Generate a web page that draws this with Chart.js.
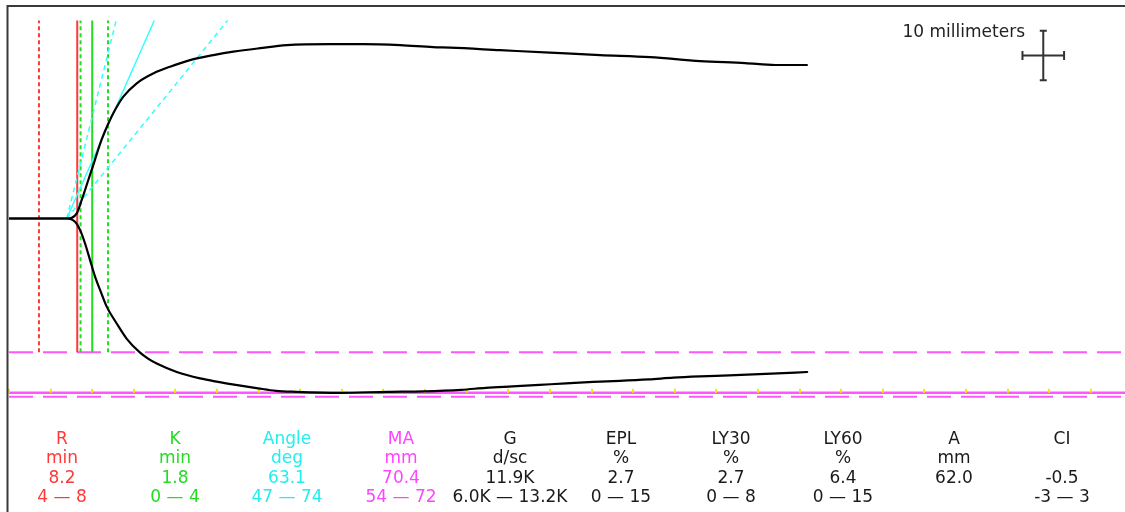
<!DOCTYPE html>
<html>
<head>
<meta charset="utf-8">
<script src="https://cdn.jsdelivr.net/npm/chart.js@4.4.1/dist/chart.umd.min.js"></script>
<style>
  html, body { margin: 0; padding: 0; background: #ffffff; overflow: hidden; }
  canvas { display: block; }
</style>
</head>
<body>
<canvas id="teg" width="1125" height="512"></canvas>
<script>
// Upper branch of the tracing: time (min) and amplitude above the baseline (mm)
const upperTime = [0, 6.94, 8.14, 8.74, 9.53, 10.13, 10.58, 11.14, 11.94, 12.74, 13.74, 15.35, 17.34, 19.35,
  21.75, 24.56, 26.96, 30.17, 33.38, 38.58, 42.55, 46.99, 50.96, 53.0, 59.0, 65.0, 71.03, 77.04, 83.05, 88.46, 92.07, 95.88];
const upperAmp = [0, 0, 1.05, 3.74, 7.78, 10.8, 13.2, 16.0, 19.2, 21.9, 24.6, 27.3, 29.3, 30.66,
  32.0, 33.0, 33.7, 34.4, 35.0, 35.2, 35.2, 35.0, 34.6, 34.5, 34.0, 33.5, 33.0, 32.6, 31.8, 31.4, 31.0, 31.0];

// Lower branch of the tracing: time (min) and amplitude below the baseline (mm)
const lowerTime = [0, 6.94, 7.93, 8.53, 9.13, 9.74, 10.34, 10.94, 11.74, 12.94, 14.15, 15.75, 16.71, 17.75, 20.16,
  22.96, 25.11, 27.25, 29.93, 32.08, 34.5, 39.78, 45.49, 49.76, 54.33, 57.3, 60.52, 63.74, 66.95, 70.18,
  73.39, 76.89, 79.83, 83.05, 86.54, 91.63, 95.91];
const lowerAmp = [0, 0, -0.65, -2.3, -5.0, -8.4, -11.75, -14.4, -17.8, -21.2, -24.3, -27.1, -28.3, -29.3, -31.0,
  -32.3, -33.0, -33.6, -34.3, -34.8, -35.0, -35.2, -35.0, -34.9, -34.6, -34.2, -33.9, -33.6, -33.3, -33.0,
  -32.8, -32.5, -32.15, -31.9, -31.7, -31.35, -31.0];

// Reported results
const R_MIN = 8.2;
const K_MIN = 1.8;
const ANGLE_DEG = 63.1;
const MA_MM = 70.4;
const angleLimits = [47, 74];
const maLimits = [54, 72];

// Reference markers (min) and the split point of the tracing
const rGuides = [3.6];
const kGuides = [8.6, 11.9];
const splitTime = 6.94;

// Time ticks along the MA line (min)
const timeTicks = [0, 5, 10, 15, 20, 25, 30, 35, 40, 45, 50, 55, 60, 65, 70, 75, 80, 85, 90, 95,
  100, 105, 110, 115, 120, 125, 130];

// Results table
const paramNames  = ['R', 'K', 'Angle', 'MA', 'G', 'EPL', 'LY30', 'LY60', 'A', 'CI'];
const paramUnits  = ['min', 'min', 'deg', 'mm', 'd/sc', '%', '%', '%', 'mm', ''];
const paramValues = ['8.2', '1.8', '63.1', '70.4', '11.9K', '2.7', '2.7', '6.4', '62.0', '-0.5'];
const paramRanges = ['4 \u2014 8', '0 \u2014 4', '47 \u2014 74', '54 \u2014 72', '6.0K \u2014 13.2K',
  '0 \u2014 15', '0 \u2014 8', '0 \u2014 15', '', '-3 \u2014 3'];

// Styling
const RED = '#ff3838';
const GREEN = '#22dd22';
const CYAN = '#33ffff';
const MAGENTA = '#ff55ff';
const YELLOW = '#eeee00';
const INK = '#1a1a1a';
const paramColors = [RED, GREEN, '#22eeee', '#ff44ff', INK, INK, INK, INK, INK, INK];
const columnX = [62, 175, 287, 401, 510, 621, 731, 843, 954, 1062];
const rowY = [440, 459, 479, 498];
const FONT = '17px "DejaVu Sans", Verdana, sans-serif';

// Display conventions
const GUIDE_TOP = 40;          // mm, upper end of guide lines
const SLOPE_PER_TAN = 1.93;    // mm/min for a tangent of 1
const T_MAX = 134.1;
const Y_MAX = 42.92;
const Y_MIN = -59.28;

const zip = (xs, ys) => xs.map((x, i) => ({ x, y: ys[i] }));
const guideBottom = -maLimits[0] / 2;
const vLine = t => [{ x: t, y: guideBottom }, { x: t, y: GUIDE_TOP }];
const hLine = mm => [{ x: 0, y: mm }, { x: T_MAX, y: mm }];
const angleLine = deg => {
  const slope = SLOPE_PER_TAN * Math.tan(deg * Math.PI / 180);
  return [{ x: splitTime, y: 0 }, { x: splitTime + GUIDE_TOP / slope, y: GUIDE_TOP }];
};

const ds = (data, color, width, dash, order) => ({
  data, borderColor: color, borderWidth: width, borderDash: dash || [],
  pointRadius: 0, tension: 0, fill: false, order
});
const trace = (data) => Object.assign(ds(data, '#000000', 2.2, null, 0), {
  cubicInterpolationMode: 'monotone', borderJoinStyle: 'round', borderCapStyle: 'round'
});

const datasets = [
  trace(zip(upperTime, upperAmp)),
  trace(zip(lowerTime, lowerAmp)),
  ds(angleLine(ANGLE_DEG), CYAN, 1.5, null, 2),
  ds(angleLine(angleLimits[0]), CYAN, 1.5, [5, 4], 2),
  ds(angleLine(angleLimits[1]), CYAN, 1.5, [5, 4], 2),
  ds(vLine(R_MIN), RED, 2, null, 3),
  ds(vLine(R_MIN + K_MIN), GREEN, 2, null, 3),
  ...rGuides.map(t => ds(vLine(t), RED, 2, [4, 3], 3)),
  ...kGuides.map(t => ds(vLine(t), GREEN, 2, [4, 3], 3)),
  ds(hLine(-maLimits[0] / 2), MAGENTA, 2, [24, 10], 4),
  ds(hLine(-maLimits[1] / 2), MAGENTA, 2, [24, 10], 4),
  ds(hLine(-MA_MM / 2), MAGENTA, 2.5, null, 5)
];
const maLineIndex = datasets.length - 1;

const decorations = {
  id: 'decorations',
  afterDatasetDraw(chart, args) {
    if (args.index !== maLineIndex) return;
    const { ctx, scales: { x, y } } = chart;
    const yy = y.getPixelForValue(-MA_MM / 2);
    ctx.save();
    ctx.strokeStyle = YELLOW;
    ctx.lineWidth = 2;
    ctx.beginPath();
    timeTicks.forEach(t => {
      const xx = Math.round(x.getPixelForValue(t));
      ctx.moveTo(xx, yy - 4);
      ctx.lineTo(xx, yy);
    });
    ctx.stroke();
    ctx.restore();
  },
  afterDraw(chart) {
    const { ctx, scales: { x, y } } = chart;
    ctx.save();
    // frame
    ctx.strokeStyle = '#3a3a3a';
    ctx.lineWidth = 2;
    ctx.beginPath();
    ctx.moveTo(7.5, 512);
    ctx.lineTo(7.5, 6);
    ctx.lineTo(1125, 6);
    ctx.stroke();

    // 10 mm scale cross (10 mm tall, 5 min wide)
    const cx = x.getPixelForValue(124.28), cy = y.getPixelForValue(32.92);
    const top = y.getPixelForValue(32.92 + 5), bot = y.getPixelForValue(32.92 - 5);
    const left = x.getPixelForValue(124.28 - 2.5), right = x.getPixelForValue(124.28 + 2.5);
    ctx.strokeStyle = '#333333';
    ctx.lineWidth = 2;
    ctx.beginPath();
    ctx.moveTo(cx, top); ctx.lineTo(cx, bot);
    ctx.moveTo(cx - 3.5, top); ctx.lineTo(cx + 3.5, top);
    ctx.moveTo(cx - 3.5, bot); ctx.lineTo(cx + 3.5, bot);
    ctx.moveTo(left, cy); ctx.lineTo(right, cy);
    ctx.moveTo(left, cy - 4.5); ctx.lineTo(left, cy + 4.5);
    ctx.moveTo(right, cy - 4.5); ctx.lineTo(right, cy + 4.5);
    ctx.stroke();

    ctx.font = FONT;
    ctx.fillStyle = '#222222';
    ctx.textAlign = 'right';
    ctx.textBaseline = 'middle';
    ctx.fillText('10 millimeters', 1025, 33);

    // results table
    ctx.textAlign = 'center';
    paramNames.forEach((name, i) => {
      ctx.fillStyle = paramColors[i];
      [name, paramUnits[i], paramValues[i], paramRanges[i]].forEach((txt, r) => {
        if (txt) ctx.fillText(txt, columnX[i], rowY[r]);
      });
    });
    ctx.restore();
  }
};

new Chart(document.getElementById('teg'), {
  type: 'line',
  data: { datasets },
  options: {
    responsive: false,
    devicePixelRatio: 1,
    animation: false,
    events: [],
    layout: { padding: { left: 9, top: 6, right: 0, bottom: 0 } },
    plugins: { legend: { display: false }, tooltip: { enabled: false } },
    scales: {
      x: { type: 'linear', min: 0, max: T_MAX, display: false },
      y: { type: 'linear', min: Y_MIN, max: Y_MAX, display: false }
    }
  },
  plugins: [decorations]
});
</script>
</body>
</html>
